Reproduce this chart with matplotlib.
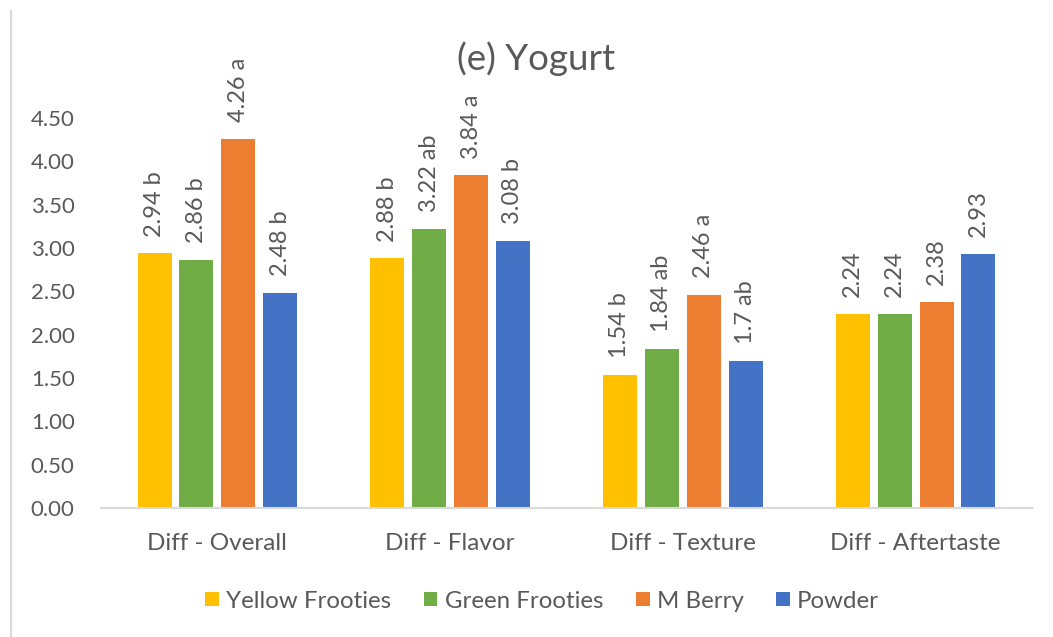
import matplotlib
matplotlib.use("Agg")
import matplotlib.pyplot as plt
import numpy as np
from matplotlib.lines import Line2D

TEXT = "#595959"
GRID = "#d9d9d9"

categories = ["Diff - Overall", "Diff - Flavor", "Diff - Texture", "Diff - Aftertaste"]
series_names = ["Yellow Frooties", "Green Frooties", "M Berry", "Powder"]
colors = ["#ffc000", "#70ad47", "#ed7d31", "#4472c4"]

yellow = [2.94, 2.88, 1.54, 2.24]
green = [2.86, 3.22, 1.84, 2.24]
berry = [4.26, 3.84, 2.46, 2.38]
powder = [2.48, 3.08, 1.70, 2.93]

yellow_labels = ["2.94 b", "2.88 b", "1.54 b", "2.24"]
green_labels = ["2.86 b", "3.22 ab", "1.84 ab", "2.24"]
berry_labels = ["4.26 a", "3.84 a", "2.46 a", "2.38"]
powder_labels = ["2.48 b", "3.08 b", "1.7 ab", "2.93"]

yticks = [0.0, 0.5, 1.0, 1.5, 2.0, 2.5, 3.0, 3.5, 4.0, 4.5]

plt.rcParams["font.family"] = ["Lato", "DejaVu Sans"]

fig = plt.figure(figsize=(10.53, 6.37), dpi=100)
ax = fig.add_axes([0.0959, 0.2025, 0.8841, 0.6123])

x = np.arange(len(categories))
width = 0.146
step = 0.18
all_values = [yellow, green, berry, powder]
all_labels = [yellow_labels, green_labels, berry_labels, powder_labels]
for i, (name, color, values, labels) in enumerate(
    zip(series_names, colors, all_values, all_labels)
):
    pos = x + (i - 1.5) * step
    bars = ax.bar(pos, values, width, color=color, label=name, zorder=2)
    for bar, text in zip(bars, labels):
        ax.annotate(
            text,
            (bar.get_x() + bar.get_width() / 2, bar.get_height()),
            xytext=(0, 12),
            textcoords="offset points",
            rotation=90,
            ha="center",
            va="bottom",
            fontsize=17,
            color=TEXT,
        )

ax.set_xlim(-0.5, len(categories) - 0.5)
ax.set_ylim(0, 4.5)
ax.set_yticks(yticks)
ax.set_yticklabels([f"{v:.2f}" for v in yticks])
ax.set_xticks(x)
ax.set_xticklabels(categories)
ax.tick_params(axis="y", length=0, pad=19, labelsize=16, labelcolor=TEXT)
ax.tick_params(axis="x", length=0, pad=18, labelsize=17.5, labelcolor=TEXT)
for side in ("top", "right", "left"):
    ax.spines[side].set_visible(False)
ax.spines["bottom"].set_color(GRID)
ax.spines["bottom"].set_linewidth(1.5)

fig.text(0.509, 1 - 59 / 637, "(e) Yogurt", ha="center", va="center",
         fontsize=26.5, color=TEXT)

ax.legend(
    loc="center",
    bbox_to_anchor=(542 / 1053, 1 - 601 / 637),
    bbox_transform=fig.transFigure,
    ncol=4,
    frameon=False,
    fontsize=17.3,
    labelcolor=TEXT,
    handlelength=0.58,
    handleheight=0.58,
    handletextpad=0.3,
    columnspacing=1.35,
)

fig.add_artist(
    Line2D([11 / 1053, 11 / 1053], [1 - 11 / 637, 0], color=GRID, linewidth=1.5)
)

fig.savefig("out.png", dpi=100, facecolor="white")
